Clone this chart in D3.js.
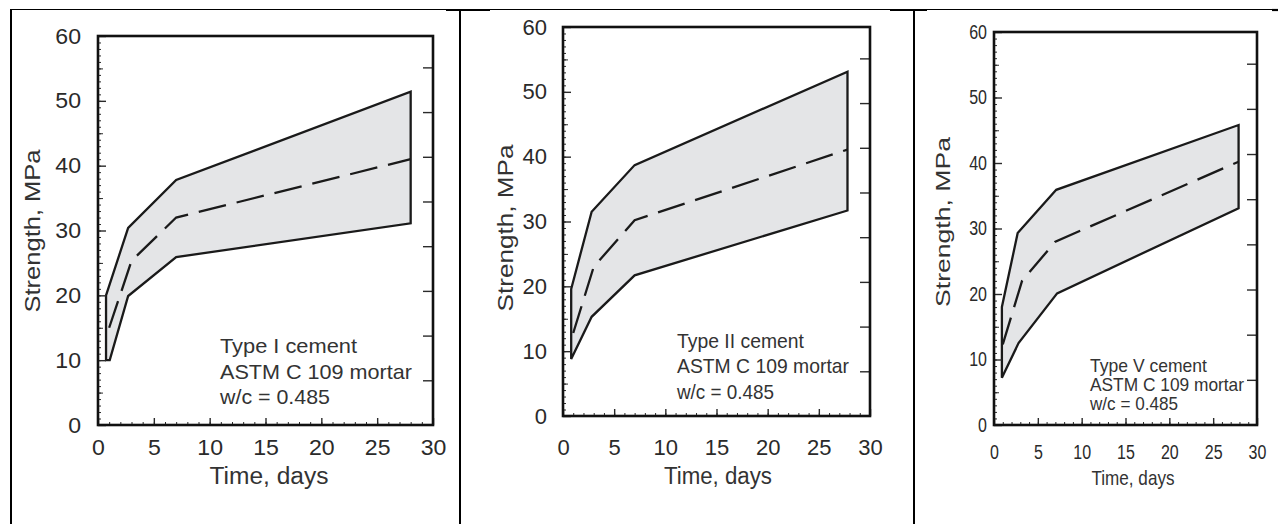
<!DOCTYPE html>
<html>
<head>
<meta charset="utf-8">
<script src="https://cdn.jsdelivr.net/npm/d3@7"></script>
<style>
html, body { margin: 0; padding: 0; background: #fff; }
svg { display: block; font-family: "Liberation Sans", Arial, Helvetica, sans-serif; }
</style>
</head>
<body>
<svg id="chart" width="1278" height="524"></svg>
<script>
// values: [days, MPa]
const xTicks = [0, 5, 10, 15, 20, 25, 30];
const yTicks = [0, 10, 20, 30, 40, 50, 60];
const psiTicks = [1000, 2000, 3000, 4000, 5000, 6000, 7000, 8000];
const cementTypes = ["Type I cement", "Type II cement", "Type V cement"];
const noteLines = ["ASTM C 109 mortar", "w/c = 0.485"];

const upperI = [[0.72, 20], [2.7, 30.4], [7, 37.8], [28, 51.4]];
const lowerI = [[0.72, 10], [1.05, 10], [2.7, 19.9], [7, 25.9], [28, 31.1]];
const meanI = [[1, 15], [3, 25.3], [7, 32], [28, 41]];

const upperII = [[0.8, 19.6], [2.8, 31.5], [7, 38.7], [27.8, 53.1]];
const lowerII = [[0.8, 8.8], [2.8, 15.3], [7, 21.7], [27.8, 31.7]];
const meanII = [[1, 12.8], [3, 23], [7, 30.2], [27.8, 41.1]];

const upperV = [[0.9, 18], [2.7, 29.3], [7.1, 35.9], [27.9, 45.8]];
const lowerV = [[0.9, 7.2], [2.8, 12.5], [7.2, 20.1], [27.9, 33.1]];
const meanV = [[1, 12.3], [3.2, 22], [7, 28], [27.9, 40.2]];

const MPA_PER_PSI = 0.006895;

// where each figure sits on the page
const panels = [
  { upper: upperI, lower: lowerI, mean: meanI, type: cementTypes[0],
    x0: 98, x1: 433, yB: 425, yT: 36, fs: 22, squeeze: 1.05,
    yLabelX: 81, xLabelY: 455,
    yTitle: { x: 32, y: 231, len: 163, fs: 22 },
    xTitle: { x: 269, y: 484, len: 119, fs: 23 },
    note: { x: 220, ys: [353, 379, 404], lens: [137, 192, 110], fs: 21 } },
  { upper: upperII, lower: lowerII, mean: meanII, type: cementTypes[1],
    x0: 563, x1: 870, yB: 416, yT: 27, fs: 22, squeeze: 1.0,
    yLabelX: 547, xLabelY: 455,
    yTitle: { x: 505, y: 228, len: 167, fs: 22 },
    xTitle: { x: 718, y: 484, len: 108, fs: 23 },
    note: { x: 677, ys: [348, 373, 399], lens: [127, 172, 97], fs: 21 } },
  { upper: upperV, lower: lowerV, mean: meanV, type: cementTypes[2],
    x0: 994, x1: 1257, yB: 425, yT: 32, fs: 20, squeeze: 0.8,
    yLabelX: 987, xLabelY: 459,
    yTitle: { x: 943, y: 222, len: 170, fs: 21 },
    xTitle: { x: 1133, y: 485, len: 83, fs: 21 },
    note: { x: 1090, ys: [372, 391, 410], lens: [117, 154, 88], fs: 19 } }
];

const svg = d3.select("#chart");

// table rules round the figures
const rule = svg.append("g").attr("stroke", "#000");
rule.append("line")
  .attr("x1", 11).attr("x2", 1278).attr("y1", 9.5).attr("y2", 9.5)
  .attr("stroke-width", 1.2);
[[446, 490], [890, 927], [1272, 1278]].forEach(([a, b]) => {
  rule.append("line").attr("x1", a).attr("x2", b).attr("y1", 10).attr("y2", 10).attr("stroke-width", 2.2);
});
[11, 460, 914].forEach(xp => {
  rule.append("line").attr("x1", xp).attr("x2", xp).attr("y1", 9).attr("y2", 524).attr("stroke-width", 2);
});

function squeezeText(sel, k) {
  sel.selectAll("text").each(function () {
    const w = this.getComputedTextLength();
    d3.select(this).attr("textLength", w * k).attr("lengthAdjust", "spacingAndGlyphs");
  });
}

function plainAxis(g, fs) {
  g.attr("font-size", fs).attr("font-family", null).attr("color", "#2a2a2a");
  g.select(".domain").remove();
}

function drawPanel(p) {
  const x = d3.scaleLinear().domain([0, 30]).range([p.x0, p.x1]);
  const y = d3.scaleLinear().domain([0, 60]).range([p.yB, p.yT]);
  const g = svg.append("g");

  const line = d3.line().x(d => x(d[0])).y(d => y(d[1]));
  const band = p.upper.concat(p.lower.slice().reverse());

  g.append("path")
    .attr("d", line(band) + "Z")
    .attr("fill", "#e4e5e7")
    .attr("stroke", "#1a1a1a")
    .attr("stroke-width", 2.3)
    .attr("stroke-linejoin", "miter");

  g.append("path")
    .attr("d", line(p.mean))
    .attr("fill", "none")
    .attr("stroke", "#1a1a1a")
    .attr("stroke-width", 2.3)
    .attr("stroke-dasharray", "28,11");

  // left axis: minor, half and major ticks, all pointing in
  g.append("g").attr("transform", `translate(${p.x0},0)`)
    .call(d3.axisLeft(y).tickValues(d3.range(0, 61)).tickSize(-3).tickFormat(""))
    .call(a => plainAxis(a, p.fs));
  g.append("g").attr("transform", `translate(${p.x0},0)`)
    .call(d3.axisLeft(y).tickValues(d3.range(5, 60, 10)).tickSize(-5).tickFormat(""))
    .call(a => plainAxis(a, p.fs));
  const yAxis = g.append("g").attr("transform", `translate(${p.x0},0)`)
    .call(d3.axisLeft(y).tickValues(yTicks).tickSize(-8).tickPadding(p.x0 - p.yLabelX))
    .call(a => plainAxis(a, p.fs));
  yAxis.selectAll("line").attr("stroke-width", 1.4);
  squeezeText(yAxis, p.squeeze);

  // bottom axis
  g.append("g").attr("transform", `translate(0,${p.yB})`)
    .call(d3.axisBottom(x).tickValues(d3.range(0, 31)).tickSize(-3).tickFormat(""))
    .call(a => plainAxis(a, p.fs));
  const xAxis = g.append("g").attr("transform", `translate(0,${p.yB})`)
    .call(d3.axisBottom(x).tickValues(xTicks).tickSize(-7)
      .tickPadding(p.xLabelY - p.yB - 0.71 * p.fs))
    .call(a => plainAxis(a, p.fs));
  xAxis.selectAll("line").attr("stroke-width", 1.4);
  squeezeText(xAxis, p.squeeze);

  // right axis: psi ticks without labels
  g.append("g").attr("transform", `translate(${p.x1},0)`)
    .call(d3.axisRight(y).tickValues(psiTicks.map(v => v * MPA_PER_PSI)).tickSize(-10).tickFormat(""))
    .call(a => plainAxis(a, p.fs))
    .selectAll("line").attr("stroke-width", 1.4);

  // frame
  g.append("rect")
    .attr("x", p.x0).attr("y", p.yT)
    .attr("width", p.x1 - p.x0).attr("height", p.yB - p.yT)
    .attr("fill", "none").attr("stroke", "#111").attr("stroke-width", 2.6);

  g.append("text")
    .attr("transform", `translate(${p.yTitle.x},${p.yTitle.y}) rotate(-90)`)
    .attr("text-anchor", "middle")
    .attr("dy", "0.35em")
    .attr("font-size", p.yTitle.fs)
    .attr("fill", "#333")
    .attr("textLength", p.yTitle.len)
    .attr("lengthAdjust", "spacingAndGlyphs")
    .text("Strength, MPa");

  g.append("text")
    .attr("x", p.xTitle.x).attr("y", p.xTitle.y)
    .attr("text-anchor", "middle")
    .attr("font-size", p.xTitle.fs)
    .attr("fill", "#333")
    .attr("textLength", p.xTitle.len)
    .attr("lengthAdjust", "spacingAndGlyphs")
    .text("Time, days");

  const lines = [p.type].concat(noteLines);
  g.selectAll(".note")
    .data(lines)
    .join("text")
    .attr("class", "note")
    .attr("x", p.note.x)
    .attr("y", (d, i) => p.note.ys[i])
    .attr("font-size", p.note.fs)
    .attr("fill", "#333")
    .attr("textLength", (d, i) => p.note.lens[i])
    .attr("lengthAdjust", "spacingAndGlyphs")
    .text(d => d);
}

panels.forEach(drawPanel);
</script>
</body>
</html>
